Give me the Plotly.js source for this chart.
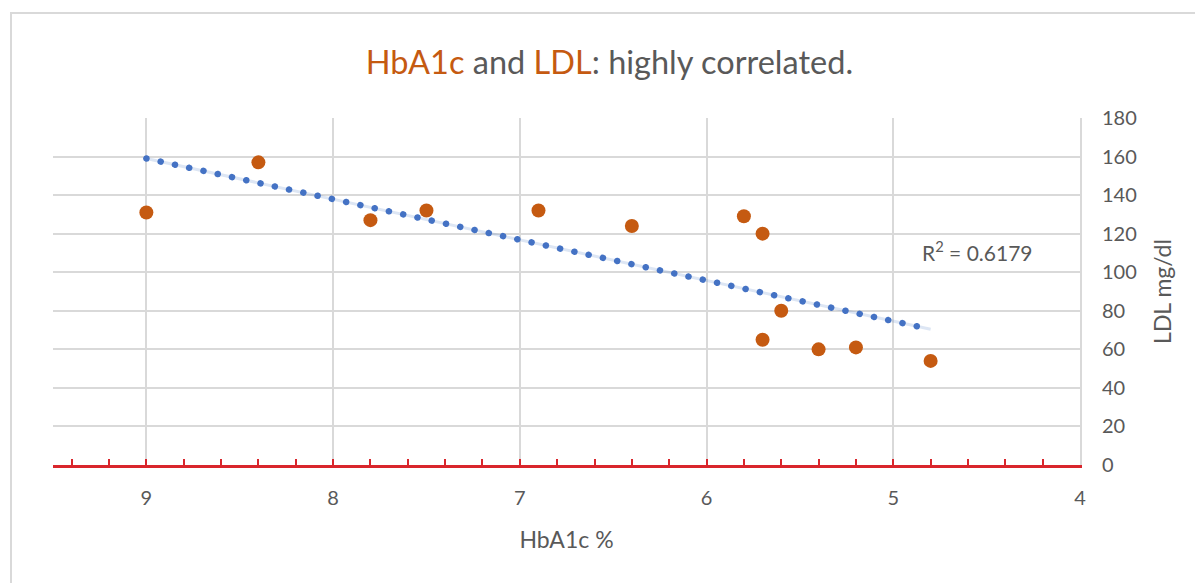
<!DOCTYPE html>
<html>
<head>
<meta charset="utf-8">
<script src="https://cdn.plot.ly/plotly-3.0.1.min.js"></script>
<style>
  html, body { margin: 0; padding: 0; background: #fff; }
  #frame { position: absolute; left: 10px; top: 12px; width: 1300px; height: 700px;
           border: 2px solid #d9d9d9; box-sizing: border-box; }
  #chart { position: absolute; left: 0; top: 0; width: 1195px; height: 583px; }
  .trend .js-line { stroke-linecap: round; }
</style>
</head>
<body>
<div id="frame"></div>
<div id="chart"></div>
<script>
// Data
const hba1c = [9.0, 8.4, 7.8, 7.5, 6.9, 6.4, 5.8, 5.7, 5.6, 5.7, 5.4, 5.2, 4.8];
const ldl   = [131, 157, 127, 132, 132, 124, 129, 120, 80, 65, 60, 61, 54];
// Linear trendline endpoints as drawn in the reference
const trendX = [9.0, 4.8];
const trendY = [159, 70.4];
const rSquaredLabel = "R<sup>2</sup> = 0.6179";
const xTicks = [9, 8, 7, 6, 5, 4];
const yTicks = [0, 20, 40, 60, 80, 100, 120, 140, 160, 180];

const FONT = "Lato, 'Open Sans', sans-serif";
const GRAY = "#595959";
const ORANGE = "#C55A11";

const traces = [
  { x: trendX, y: trendY, type: "scatter", mode: "lines", hoverinfo: "skip",
    line: { color: "rgba(68,114,196,0.18)", width: 3 }, showlegend: false },
  { x: trendX, y: trendY, type: "scatter", mode: "lines", hoverinfo: "skip",
    line: { color: "#4472C4", width: 6.5, dash: "0.1px,14.5px" }, showlegend: false },
  { x: hba1c, y: ldl, type: "scatter", mode: "markers",
    marker: { color: ORANGE, size: 14, line: { width: 0 } }, showlegend: false }
];

const layout = {
  width: 1195, height: 583,
  margin: { l: 53, r: 115, t: 118, b: 118 },
  paper_bgcolor: "rgba(0,0,0,0)",
  plot_bgcolor: "rgba(0,0,0,0)",
  font: { family: FONT, color: GRAY, size: 20 },
  title: {
    text: '<span style="color:' + ORANGE + '">HbA1c</span> and <span style="color:' + ORANGE + '">LDL</span>: highly correlated.',
    font: { family: FONT, size: 32.5, color: GRAY },
    x: 0.51, xanchor: "center", y: 0.893, yanchor: "middle"
  },
  xaxis: {
    range: [9.5, 4],
    tickvals: xTicks,
    ticktext: xTicks.map(String),
    showgrid: true, gridcolor: "#d9d9d9", gridwidth: 2,
    zeroline: false,
    showline: true, linecolor: "#D9262C", linewidth: 2.5,
    ticks: "inside", ticklen: 6, tickwidth: 2, tickcolor: "#D9262C",
    minor: { dtick: 0.2, tick0: 4, ticks: "inside", ticklen: 6, tickwidth: 2, tickcolor: "#D9262C", showgrid: false },
    ticklabelstandoff: 13,
    tickfont: { family: FONT, size: 20, color: GRAY },
    title: { text: "HbA1c %", font: { family: FONT, size: 23, color: GRAY }, standoff: 25 },
    fixedrange: true
  },
  yaxis: {
    side: "right",
    range: [0, 180],
    tickvals: yTicks,
    ticktext: yTicks.map(String),
    showgrid: true, gridcolor: "#d9d9d9", gridwidth: 2,
    zeroline: false,
    showline: true, linecolor: "#d9d9d9", linewidth: 2,
    ticks: "", ticklabelstandoff: 16,
    tickfont: { family: FONT, size: 20, color: GRAY },
    title: { text: "LDL mg/dl", font: { family: FONT, size: 23, color: GRAY }, standoff: 19 },
    fixedrange: true
  },
  annotations: [
    { x: 4.55, y: 111, xref: "x", yref: "y", text: rSquaredLabel, showarrow: false,
      font: { family: FONT, size: 21, color: GRAY }, xanchor: "center", yanchor: "middle" }
  ]
};

Plotly.newPlot("chart", traces, layout, { displayModeBar: false, staticPlot: true }).then(() => {
  const lines = document.querySelectorAll(".scatterlayer .trace");
  if (lines[1]) lines[1].classList.add("trend");
});
</script>
</body>
</html>
